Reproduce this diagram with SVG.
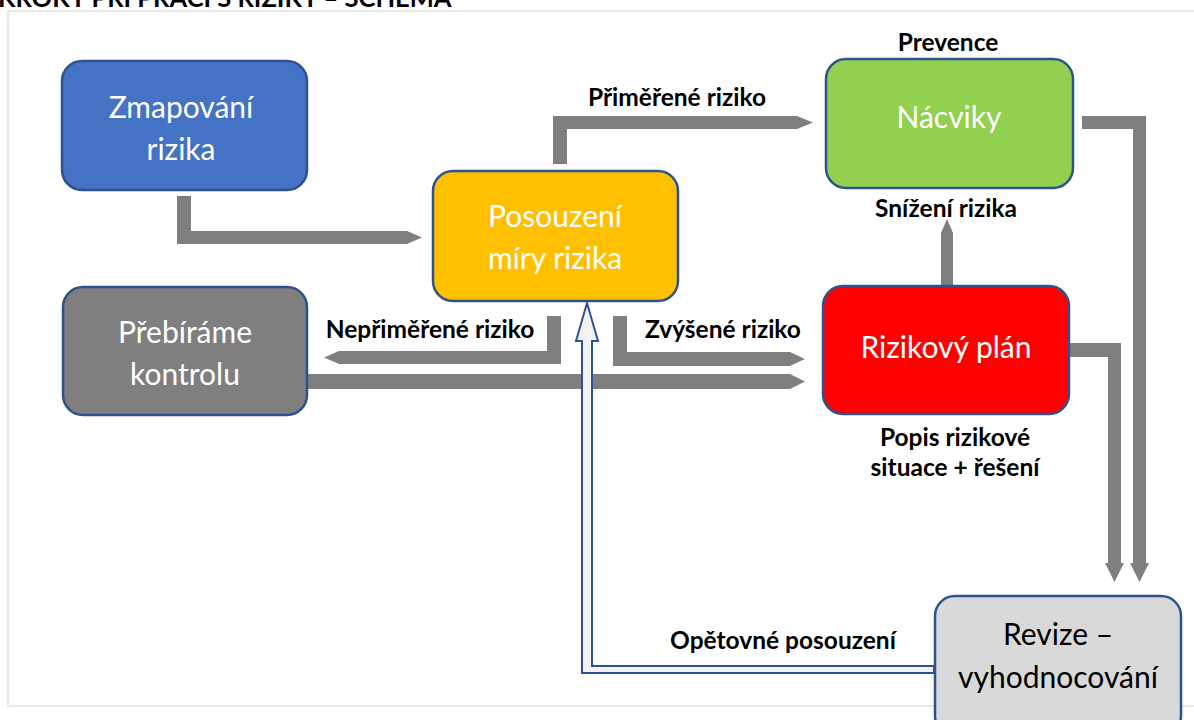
<svg xmlns="http://www.w3.org/2000/svg" width="1194" height="720" viewBox="0 0 1194 720">
<style>
.box{stroke:#2F528F;stroke-width:2.5}
.t{font-family:Lato,"Open Sans","Liberation Sans",sans-serif;font-size:30px;text-anchor:middle}
.w{fill:#FFFFFF}
.lbl{font-family:Lato,"Open Sans","Liberation Sans",sans-serif;font-size:24.5px;font-weight:bold;fill:#000000;text-anchor:middle}
.c{fill:#7F7F7F}
.h{fill:#F2F2F2;stroke:#2F528F;stroke-width:2}
</style>
<rect width="1194" height="720" fill="#FFFFFF"/>
<text x="-2" y="7" font-family="Lato,'Open Sans','Liberation Sans',sans-serif" font-size="25.5" font-weight="bold" fill="#000">KROKY PŘI PRÁCI S RIZIKY – SCHÉMA</text>
<rect x="8" y="11" width="1200" height="695" fill="none" stroke="#E8E8E8" stroke-width="2"/>
<g id="connectors">
<polygon class="c" points="177,196 191,196 191,231 407,231 422,237.5 407,244 177,244"/>
<polygon class="c" points="553,164 553,116 797,116 813,122.5 797,129 567,129 567,164"/>
<polygon class="c" points="547,316 561,316 561,364 339,364 324,357.5 339,351 547,351"/>
<polygon class="c" points="613,316 627,316 627,352 790,352 805,359 790,366 613,366"/>
<polygon class="c" points="307,374 790,374 805,381.5 790,389 307,389"/>
<polygon class="c" points="941,286 941,233 947,219 953,233 953,286"/>
<polygon class="c" points="1082,116 1146,116 1146,563 1149,563 1139.5,582 1130,563 1133,563 1133,129 1082,129"/>
<polygon class="c" points="1069,343 1121,343 1121,563 1124,563 1114.5,582 1105,563 1108,563 1108,357 1069,357"/>
<polygon class="h" points="582,673 934,673 934,666 592,666 592,341 598,341 587,303 576,341 582,341"/>
</g>
<g id="zmapovani">
<rect class="box" x="62" y="61" width="245" height="129" rx="20" fill="#4472C4"/>
<text class="t w" x="181" y="118">Zmapování</text>
<text class="t w" x="181" y="160">rizika</text>
</g>
<g id="posouzeni">
<rect class="box" x="433" y="171" width="245" height="130" rx="20" fill="#FFC000"/>
<text class="t w" x="555" y="227">Posouzení</text>
<text class="t w" x="555" y="269">míry rizika</text>
</g>
<g id="nacviky">
<rect class="box" x="826" y="59" width="247" height="129" rx="20" fill="#92D050"/>
<text class="t w" x="949" y="128">Nácviky</text>
</g>
<g id="rizikovy-plan">
<rect class="box" x="823" y="286" width="246" height="128" rx="20" fill="#FF0000"/>
<text class="t w" x="946" y="358">Rizikový plán</text>
</g>
<g id="prebirame">
<rect class="box" x="63" y="287" width="244" height="128" rx="20" fill="#7F7F7F"/>
<text class="t w" x="185" y="343">Přebíráme</text>
<text class="t w" x="185" y="385">kontrolu</text>
</g>
<g id="revize">
<rect class="box" x="935" y="596" width="246" height="140" rx="20" fill="#D9D9D9"/>
<text class="t" x="1058" y="645" fill="#000">Revize –</text>
<text class="t" x="1058" y="688" fill="#000">vyhodnocování</text>
</g>
<g id="labels">
<text class="lbl" x="677" y="106">Přiměřené riziko</text>
<text class="lbl" x="948" y="51">Prevence</text>
<text class="lbl" x="946" y="217">Snížení rizika</text>
<text class="lbl" x="430" y="338">Nepřiměřené riziko</text>
<text class="lbl" x="723" y="338">Zvýšené riziko</text>
<text class="lbl" x="955" y="446">Popis rizikové</text>
<text class="lbl" x="955" y="476">situace + řešení</text>
<text class="lbl" x="783" y="649">Opětovné posouzení</text>
</g>
</svg>
